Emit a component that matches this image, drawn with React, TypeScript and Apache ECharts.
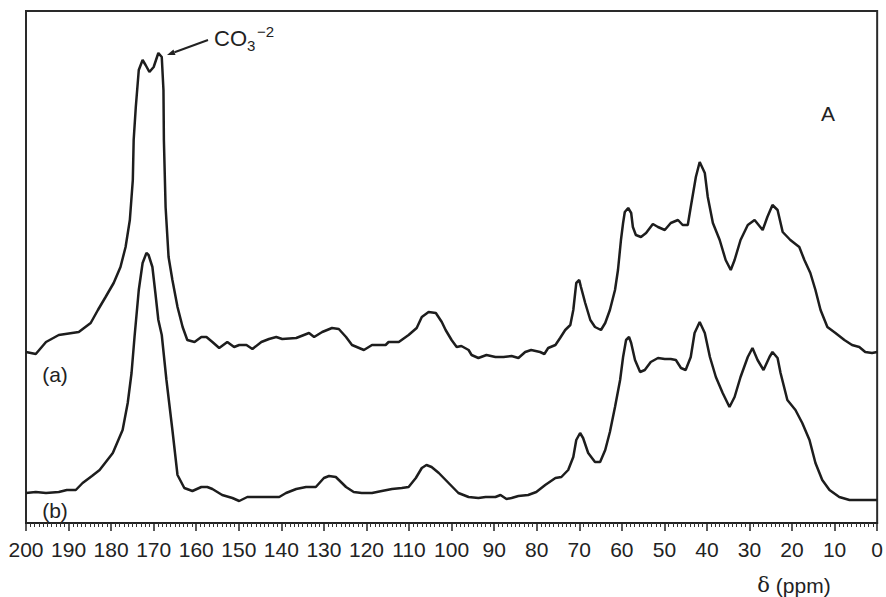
import React, { useEffect, useRef } from "react";
import * as echarts from "echarts";

// Chemical shift (ppm) and relative intensity for trace (a)
const ppmA = [200, 197.7, 195.3, 192.3, 187.6, 184.8, 183.1, 181.3, 179.4, 177.8, 176.6, 175.6, 174.9, 174.7, 174.2, 173.5, 172.6, 171.9, 171.0, 170.0, 168.9, 168.1, 167.7, 167.6, 167.2, 166.5, 165.6, 164.4, 163.2, 162.1, 160.4, 158.8, 157.6, 156.2, 154.6, 152.7, 151.1, 149.9, 148.2, 146.8, 144.7, 142.9, 141.2, 139.8, 136.5, 133.5, 132.3, 130.4, 128.1, 126.5, 124.8, 123.4, 120.6, 118.7, 115.5, 114.8, 112.4, 110.1, 108.2, 107.0, 105.4, 103.7, 102.3, 101.4, 100.0, 98.8, 97.7, 96.0, 95.3, 93.7, 91.8, 89.7, 87.8, 85.9, 84.3, 82.7, 81.3, 79.2, 78.2, 77.3, 75.6, 74.5, 73.3, 72.1, 71.4, 70.7, 70.0, 69.6, 68.6, 67.4, 66.3, 64.9, 63.9, 62.8, 61.6, 60.9, 60.2, 59.7, 59.3, 58.5, 57.8, 57.4, 56.7, 55.5, 54.3, 52.7, 51.5, 49.9, 48.5, 46.8, 45.7, 44.5, 43.8, 42.6, 41.7, 40.5, 39.8, 38.6, 37.0, 35.6, 34.4, 33.5, 32.1, 30.4, 28.8, 26.9, 25.8, 24.6, 23.4, 22.2, 20.4, 18.3, 17.1, 15.7, 14.5, 13.3, 11.7, 9.8, 7.7, 5.9, 4.2, 2.8, 1.2, 0];
const intA = [171, 169, 181, 188, 191, 200, 213, 226, 240, 256, 276, 303, 343, 383, 416, 453, 463, 458, 451, 456, 470, 466, 433, 383, 316, 266, 243, 216, 196, 183, 181, 186, 186, 181, 175, 181, 176, 178, 178, 174, 181, 184, 186, 184, 185, 190, 186, 191, 195, 194, 186, 178, 173, 178, 178, 181, 181, 188, 195, 206, 211, 210, 201, 193, 183, 176, 177, 173, 168, 165, 168, 166, 166, 167, 165, 171, 173, 171, 169, 175, 178, 185, 193, 198, 213, 240, 243, 236, 220, 203, 196, 193, 200, 213, 233, 253, 283, 300, 311, 315, 310, 296, 288, 286, 290, 299, 296, 293, 300, 303, 298, 298, 316, 346, 361, 350, 326, 300, 283, 263, 253, 263, 283, 298, 303, 293, 306, 318, 313, 291, 283, 276, 263, 250, 233, 213, 196, 190, 183, 178, 176, 171, 170, 171];

// Trace (b)
const ppmB = [200, 197.7, 195.3, 192.3, 190.4, 188.3, 186.7, 184.5, 182.7, 179.6, 177.3, 176.1, 175.2, 174.5, 173.5, 172.6, 171.7, 171.2, 170.3, 169.6, 168.9, 168.1, 167.0, 165.6, 164.4, 162.8, 160.9, 158.8, 157.4, 156.2, 153.9, 151.5, 149.9, 148.0, 145.2, 140.5, 138.9, 136.5, 134.2, 131.9, 130.0, 128.8, 127.2, 126.0, 124.8, 123.0, 121.1, 118.7, 116.4, 114.0, 111.7, 110.1, 108.4, 107.0, 105.9, 104.7, 103.0, 100.7, 98.4, 96.0, 93.7, 92.0, 89.7, 88.5, 87.1, 85.9, 84.3, 82.0, 80.1, 78.0, 75.6, 74.2, 72.6, 71.4, 70.7, 69.8, 69.1, 67.9, 66.3, 65.1, 63.9, 62.8, 61.6, 60.4, 59.7, 59.0, 58.3, 57.8, 56.9, 55.7, 54.6, 53.2, 51.5, 49.9, 48.5, 47.3, 46.1, 45.0, 43.8, 42.9, 41.7, 40.5, 39.3, 37.9, 36.3, 34.7, 33.5, 32.1, 30.4, 29.3, 28.1, 26.7, 25.3, 24.6, 23.4, 22.7, 21.1, 19.2, 17.6, 15.9, 14.5, 12.9, 11.2, 8.9, 6.5, 0];
const intB = [30, 31, 30, 31, 33, 33, 40, 47, 53, 70, 93, 120, 150, 186, 233, 260, 270, 268, 256, 230, 203, 188, 143, 93, 48, 35, 32, 36, 36, 34, 28, 25, 22, 26, 26, 26, 30, 34, 36, 36, 45, 47, 46, 41, 36, 31, 30, 30, 32, 34, 35, 36, 45, 55, 58, 56, 50, 40, 30, 26, 25, 26, 26, 28, 24, 25, 27, 28, 31, 38, 45, 46, 53, 66, 83, 90, 85, 70, 61, 61, 73, 91, 116, 143, 166, 183, 186, 180, 163, 151, 153, 161, 165, 164, 164, 163, 155, 153, 166, 190, 201, 190, 166, 146, 130, 116, 126, 146, 166, 175, 163, 153, 166, 171, 165, 150, 123, 113, 100, 83, 60, 43, 33, 26, 23, 23];

const xMin = 0;
const xMax = 200;
const xInterval = 10;
const yMax = 512;

const seriesNames = ["(a)", "(b)"];

export default function App() {
  const ref = useRef<HTMLDivElement>(null);

  useEffect(() => {
    if (!ref.current) return;
    const chart = echarts.init(ref.current, undefined, { renderer: "svg" });
    const dataA = ppmA.map((p, i) => [p, intA[i]]);
    const dataB = ppmB.map((p, i) => [p, intB[i]]);
    const lineColor = "#1d1d1d";
    const font = "Liberation Sans, Arial, sans-serif";
    const dir = [-0.936, 0.351];
    const tip = [167, 55];
    const base = [tip[0] - 8 * dir[0], tip[1] - 8 * dir[1]];
    const perp = [0.351, 0.936];
    chart.setOption({
      animation: false,
      backgroundColor: "#ffffff",
      grid: {
        left: 26,
        right: 6,
        top: 11,
        bottom: 74,
        show: true,
        borderColor: "#2a2a2a",
        borderWidth: 2,
        backgroundColor: "transparent",
      },
      xAxis: {
        type: "value",
        min: xMin,
        max: xMax,
        interval: xInterval,
        inverse: true,
        axisLine: { show: true, lineStyle: { color: "#222", width: 2 } },
        axisTick: { show: true, length: 8, lineStyle: { color: "#222", width: 1.5 } },
        minorTick: { show: true, splitNumber: 10, length: 4, lineStyle: { color: "#333", width: 1 } },
        axisLabel: { fontSize: 21, fontFamily: font, color: "#222", margin: 16 },
        splitLine: { show: false },
        minorSplitLine: { show: false },
      },
      yAxis: {
        type: "value",
        min: 0,
        max: yMax,
        show: false,
        splitLine: { show: false },
      },
      series: [
        {
          name: seriesNames[0],
          type: "line",
          data: dataA,
          showSymbol: false,
          symbol: "none",
          lineStyle: { color: lineColor, width: 2.5 },
          z: 3,
        },
        {
          name: seriesNames[1],
          type: "line",
          data: dataB,
          showSymbol: false,
          symbol: "none",
          lineStyle: { color: lineColor, width: 2.5 },
          z: 3,
        },
      ],
      graphic: [
        { type: "text", x: 55, y: 374, style: { text: seriesNames[0], font: `21px ${font}`, fill: "#222", align: "center", verticalAlign: "middle" } },
        { type: "text", x: 55, y: 510, style: { text: seriesNames[1], font: `21px ${font}`, fill: "#222", align: "center", verticalAlign: "middle" } },
        { type: "text", x: 828, y: 113, style: { text: "A", font: `21px ${font}`, fill: "#222", align: "center", verticalAlign: "middle" } },
        { type: "text", x: 214, y: 38, style: { text: "CO", font: `22px ${font}`, fill: "#222", align: "left", verticalAlign: "middle" } },
        { type: "text", x: 247, y: 45, style: { text: "3", font: `15px ${font}`, fill: "#222", align: "left", verticalAlign: "middle" } },
        { type: "text", x: 257, y: 31, style: { text: "\u22122", font: `15px ${font}`, fill: "#222", align: "left", verticalAlign: "middle" } },
        { type: "line", shape: { x1: 208, y1: 40, x2: base[0], y2: base[1] }, style: { stroke: "#222", lineWidth: 2 } },
        {
          type: "polygon",
          shape: {
            points: [
              [tip[0], tip[1]],
              [base[0] + 3 * perp[0], base[1] + 3 * perp[1]],
              [base[0] - 3 * perp[0], base[1] - 3 * perp[1]],
            ],
          },
          style: { fill: "#222" },
        },
        {
          type: "text",
          x: 794,
          y: 585,
          style: {
            text: "{d|\u03b4} {p|(ppm)}",
            align: "center",
            verticalAlign: "middle",
            rich: {
              d: { fontFamily: "DejaVu Serif, Liberation Serif, serif", fontSize: 21, fill: "#222", color: "#222" },
              p: { fontFamily: font, fontSize: 21, fill: "#222", color: "#222" },
            },
            font: `21px ${font}`,
            fill: "#222",
          },
        },
      ],
    });
    return () => chart.dispose();
  }, []);

  return <div ref={ref} style={{ position: "fixed", left: 0, top: 0, width: 886, height: 597 }} />;
}
